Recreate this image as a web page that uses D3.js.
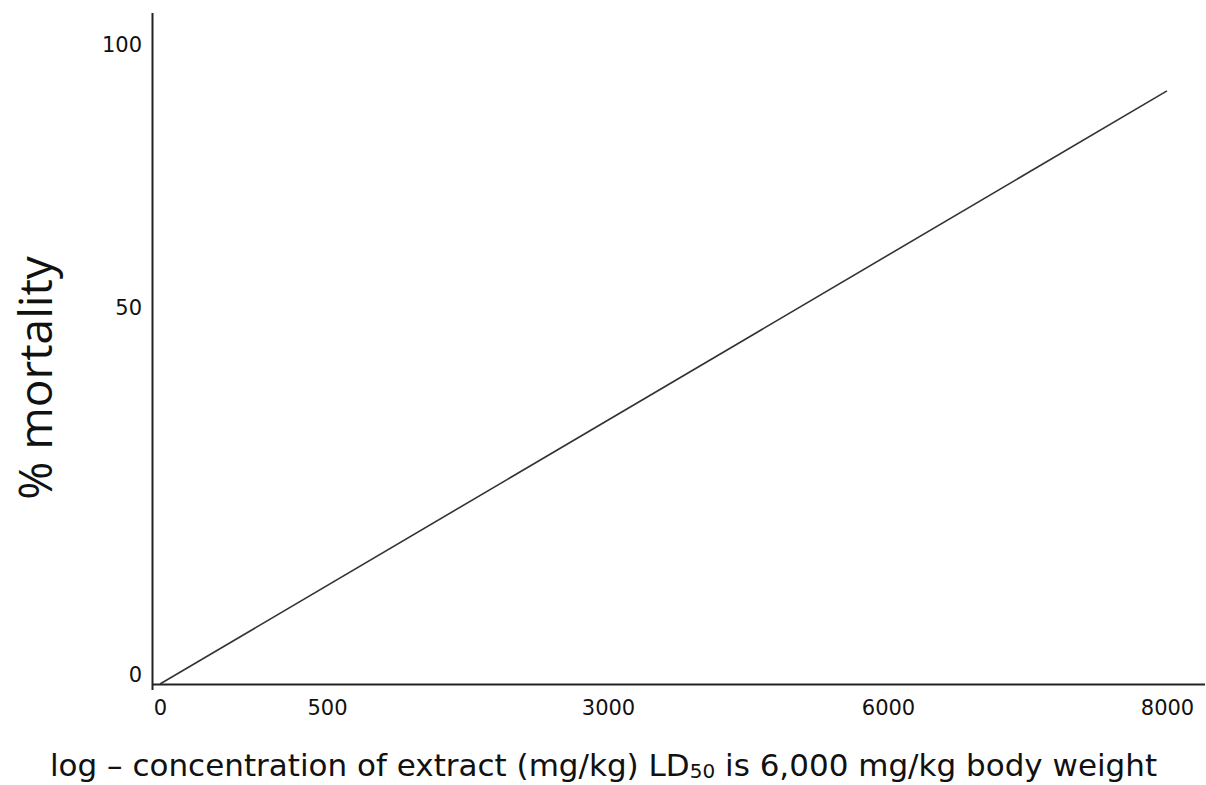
<!DOCTYPE html>
<html>
<head>
<meta charset="utf-8">
<script src="https://cdn.jsdelivr.net/npm/d3@7"></script>
<style>
  body { margin: 0; background: #fff; }
  svg { display: block; }
</style>
</head>
<body>
<svg id="vis" width="1206" height="785"></svg>
<script>
// tick labels on each axis
var xTicks = [0, 500, 3000, 6000, 8000];
var yTicks = [0, 50, 100];
// the fitted mortality line
var doseVals = [0, 8000];
var mortVals = [0, 93];

var svg = d3.select("#vis");

// axes are not evenly spaced in the source, so piecewise scales
var x = d3.scaleLinear().domain(xTicks).range([160, 327, 608, 888, 1167]);
var y = d3.scaleLinear().domain(yTicks).range([684, 317, 54]);

var tickFont = "DejaVu Sans, Verdana, sans-serif";

// axis lines
svg.append("line")
  .attr("x1", 152.5).attr("x2", 152.5)
  .attr("y1", 13).attr("y2", 690)
  .attr("stroke", "#222").attr("stroke-width", 2);
svg.append("line")
  .attr("x1", 152).attr("x2", 1205)
  .attr("y1", 684.5).attr("y2", 684.5)
  .attr("stroke", "#222").attr("stroke-width", 2);

var gx = svg.append("g")
  .attr("transform", "translate(0,684)")
  .call(d3.axisBottom(x).tickValues(xTicks).tickSize(0).tickPadding(16).tickFormat(d3.format("d")));
gx.select(".domain").remove();
gx.selectAll("text")
  .attr("font-family", tickFont).attr("font-size", 21).attr("fill", "#111");

var gy = svg.append("g")
  .attr("transform", "translate(152,0)")
  .call(d3.axisLeft(y).tickValues(yTicks).tickSize(0).tickPadding(10).tickFormat(d3.format("d")));
gy.select(".domain").remove();
gy.selectAll("text")
  .attr("y", -9)
  .attr("font-family", tickFont).attr("font-size", 21).attr("fill", "#111");

// the line
var line = d3.line()
  .x(function(d, i){ return x(doseVals[i]); })
  .y(function(d, i){ return y(mortVals[i]); });
svg.append("path")
  .datum(doseVals)
  .attr("d", line)
  .attr("fill", "none")
  .attr("stroke", "#333")
  .attr("stroke-width", 1.6);

// y title
svg.append("text")
  .attr("transform", "translate(52,378) rotate(-90)")
  .attr("text-anchor", "middle")
  .attr("font-family", "Open Sans, Noto Sans, sans-serif")
  .attr("font-size", 46)
  .attr("fill", "#111")
  .text("% mortality");

// x title with subscript
var xt = svg.append("text")
  .attr("x", 50).attr("y", 776)
  .attr("font-family", tickFont)
  .attr("font-size", 31)
  .attr("fill", "#111");
xt.append("tspan").text("log \u2013 concentration of extract (mg/kg) LD");
xt.append("tspan").attr("font-size", 20).attr("dy", 2).text("50");
xt.append("tspan").attr("dy", -2).text(" is 6,000 mg/kg body weight");
</script>
</body>
</html>
